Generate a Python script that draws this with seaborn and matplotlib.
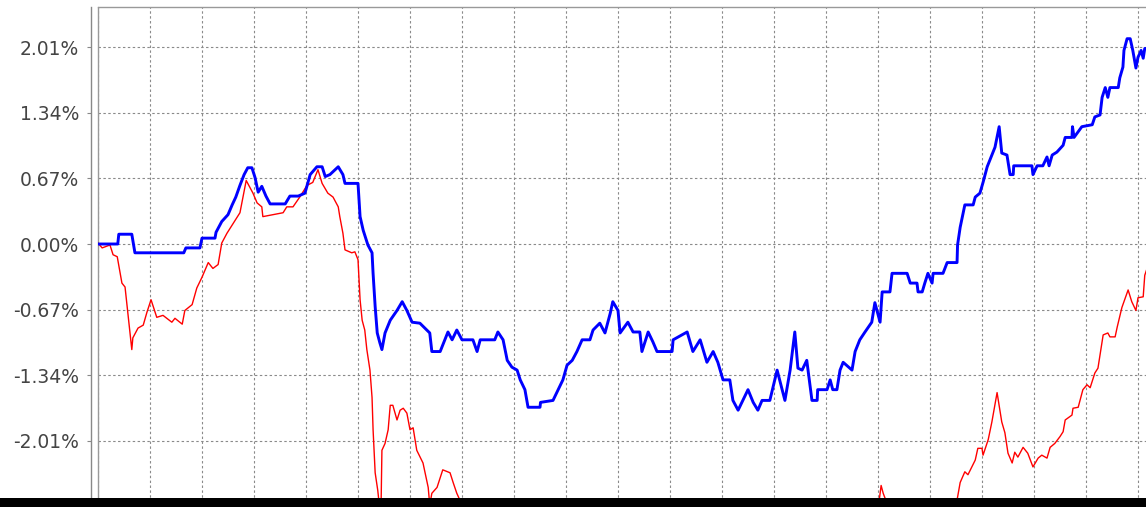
import numpy as np
import pandas as pd
import seaborn as sns
import matplotlib.pyplot as plt
from matplotlib.patches import Rectangle

# trading day index vs cumulative return (%)
blue_day = [0, 3.8, 4.0, 6.5, 7.1, 16.5, 16.9, 19.6, 20.0, 22.5, 22.7, 23.8, 25.0, 25.8, 26.5, 27.3,
            28.1, 28.8, 29.6, 30.2, 30.8, 31.5, 32.3, 33.1, 36.0, 36.9, 38.5, 39.8, 40.8, 42.1, 43.1,
            43.7, 44.6, 46.2, 47.1, 47.5, 50.0, 50.4, 51.0, 51.9, 52.7, 52.9, 53.3, 53.7, 54.2, 54.6,
            55.2, 56.2, 57.5, 58.5, 59.4, 60.4, 61.9, 63.8, 64.2, 65.8, 66.7, 67.3, 68.1, 69.0, 70.0,
            72.1, 72.9, 73.5, 76.3, 76.9, 77.9, 78.7, 79.6, 80.6, 81.2, 82.1, 82.7, 85.0, 85.1, 87.5,
            88.5, 89.4, 90.2, 91.2, 92.1, 93.1, 94.6, 95.2, 96.5, 97.5, 98.5, 99.0, 100.0, 100.4, 101.9,
            102.9, 104.2, 104.6, 105.8, 106.7, 107.5, 110.4, 110.6, 113.3, 114.4, 115.8, 117.1, 118.3,
            119.2, 120.2, 121.5, 122.1, 123.1, 124.0, 125.0, 126.0, 126.9, 127.7, 129.2, 130.6, 132.1,
            133.1, 134.0, 134.6, 135.4, 136.3, 137.3, 138.3, 138.4, 140.2, 140.8, 141.3, 142.1, 142.7,
            143.3, 145.0, 145.6, 146.5, 147.5, 148.8, 149.4, 150.4, 150.8, 152.3, 152.7, 155.6, 156.2,
            157.5, 157.7, 158.5, 159.0, 159.6, 160.4, 160.6, 162.5, 163.3, 165.2, 165.3, 165.8, 166.7,
            168.3, 168.7, 169.6, 170.2, 171.0, 171.9, 172.5, 173.3, 173.8, 174.8, 175.4, 176.0, 176.1,
            179.6, 179.8, 180.6, 181.7, 182.5, 182.9, 183.5, 184.4, 185.6, 186.0, 187.3, 187.4, 187.7,
            189.2, 191.2, 191.7, 192.7, 193.1, 193.7, 194.2, 194.6, 196.2, 196.5, 197.1, 197.3, 197.9,
            198.5, 199.0, 199.6, 200.0, 200.6, 201.0, 201.3, 202.0]
blue_ret = [0.00, 0.00, 0.10, 0.10, -0.09, -0.09, -0.04, -0.04, 0.06, 0.06, 0.12, 0.23, 0.30, 0.40, 0.48, 0.60,
            0.71, 0.78, 0.78, 0.68, 0.53, 0.59, 0.49, 0.41, 0.41, 0.49, 0.49, 0.52, 0.71, 0.79, 0.79,
            0.69, 0.71, 0.79, 0.71, 0.62, 0.62, 0.28, 0.14, -0.01, -0.09, -0.30, -0.64, -0.91, -1.01, -1.08,
            -0.91, -0.78, -0.68, -0.59, -0.68, -0.80, -0.81, -0.91, -1.10, -1.10, -0.98, -0.90, -0.98, -0.88, -0.98,
            -0.98, -1.10, -0.98, -0.98, -0.90, -0.98, -1.19, -1.26, -1.29, -1.39, -1.49, -1.67, -1.67, -1.62, -1.60,
            -1.49, -1.39, -1.24, -1.19, -1.10, -0.98, -0.98, -0.88, -0.81, -0.91, -0.71, -0.59, -0.68, -0.91, -0.80,
            -0.90, -0.90, -1.10, -0.90, -1.00, -1.10, -1.10, -0.98, -0.90, -1.10, -0.98, -1.21, -1.10,
            -1.21, -1.39, -1.39, -1.60, -1.70, -1.60, -1.49, -1.62, -1.70, -1.60, -1.60, -1.29, -1.60,
            -1.29, -0.90, -1.27, -1.29, -1.19, -1.60, -1.60, -1.49, -1.49, -1.39, -1.49, -1.49, -1.29,
            -1.21, -1.29, -1.10, -0.98, -0.90, -0.80, -0.60, -0.80, -0.49, -0.49, -0.30, -0.30, -0.40,
            -0.40, -0.49, -0.49, -0.40, -0.30, -0.40, -0.30, -0.30, -0.19, -0.19, -0.01, 0.17, 0.40,
            0.40, 0.48, 0.52, 0.63, 0.79, 0.91, 0.99, 1.20, 0.93, 0.91, 0.71, 0.71, 0.80,
            0.80, 0.71, 0.80, 0.80, 0.89, 0.80, 0.91, 0.94, 1.01, 1.09, 1.09, 1.20, 1.09,
            1.20, 1.22, 1.30, 1.32, 1.50, 1.60, 1.50, 1.60, 1.60, 1.70, 1.81, 1.98, 2.10,
            2.10, 1.98, 1.80, 1.91, 1.98, 1.90, 2.00, 2.00]

red_day = [0, 0.8, 2.3, 2.9, 3.7, 4.6, 5.2, 6.5, 6.7, 7.7, 8.7, 9.4, 10.2, 11.3, 12.5, 14.2, 14.8, 16.2,
           16.7, 18.1, 19.0, 20.0, 21.2, 22.1, 23.1, 23.8, 24.8, 26.0, 27.3, 28.5, 29.8, 30.6, 31.5,
           31.7, 33.7, 35.6, 36.3, 37.5, 38.8, 40.2, 41.3, 42.3, 43.1, 44.2, 45.2, 46.2, 46.5, 47.1,
           47.5, 48.8, 49.4, 50.0, 50.4, 50.8, 51.3, 51.7, 52.3, 52.7, 52.9, 53.3, 53.8, 54.2, 54.4,
           54.6, 55.2, 55.8, 56.2, 56.7, 57.5, 58.1, 58.7, 59.4, 60.0, 60.6, 61.3, 62.5, 63.5, 63.8,
           64.2, 65.2, 65.8, 66.3, 67.7, 68.3, 69.0, 69.6, 70.6, 75.0, 80.0, 90.0, 100.0, 110.0, 120.0,
           130.0, 140.0, 148.0, 150.0, 150.6, 151.0, 151.5, 153.0, 160.0, 165.2, 165.8, 166.7, 167.3,
           168.7, 169.2, 170.0, 170.2, 171.2, 171.9, 172.9, 173.8, 174.4, 175.0, 175.8, 176.3, 176.9,
           177.9, 178.8, 179.8, 180.8, 181.5, 182.5, 183.1, 184.0, 185.0, 185.6, 186.0, 187.3, 187.5,
           188.5, 189.4, 190.2, 190.8, 191.7, 192.3, 193.3, 194.2, 194.6, 195.6, 196.0, 196.9, 198.1,
           198.8, 199.6, 200.0, 201.0, 201.3, 202.0]
red_ret = [0.01, -0.04, -0.01, -0.11, -0.13, -0.40, -0.44, -1.08, -0.96, -0.86, -0.83, -0.70, -0.57, -0.75, -0.73, -0.80, -0.76, -0.82,
           -0.68, -0.62, -0.45, -0.34, -0.19, -0.25, -0.21, 0.01, 0.11, 0.21, 0.32, 0.65, 0.52, 0.42, 0.38,
           0.28, 0.30, 0.32, 0.38, 0.38, 0.48, 0.60, 0.63, 0.76, 0.62, 0.52, 0.48, 0.38, 0.28, 0.11,
           -0.06, -0.09, -0.08, -0.16, -0.57, -0.78, -0.88, -1.08, -1.29, -1.57, -1.90, -2.34, -2.52, -2.72, -2.80,
           -2.11, -2.04, -1.90, -1.65, -1.65, -1.80, -1.70, -1.68, -1.73, -1.90, -1.88, -2.11, -2.24, -2.49, -2.67,
           -2.55, -2.49, -2.39, -2.31, -2.34, -2.44, -2.55, -2.62, -2.75, -2.90, -3.10, -3.20, -3.05, -3.15, -3.30,
           -3.10, -2.95, -2.80, -2.72, -2.47, -2.55, -2.62, -2.80, -3.00, -2.62, -2.44, -2.33, -2.36,
           -2.21, -2.09, -2.09, -2.16, -2.00, -1.82, -1.52, -1.82, -1.93, -2.14, -2.24, -2.13, -2.18,
           -2.08, -2.14, -2.28, -2.19, -2.16, -2.19, -2.08, -2.04, -1.97, -1.92, -1.80, -1.75, -1.68,
           -1.67, -1.49, -1.44, -1.47, -1.32, -1.27, -0.93, -0.91, -0.95, -0.95, -0.85, -0.65, -0.47,
           -0.59, -0.68, -0.55, -0.54, -0.32, -0.21]

ytick_vals = [-2.68, -2.01, -1.34, -0.67, 0.00, 0.67, 1.34, 2.01]
ytick_labels = ['-2.68%', '-2.01%', '-1.34%', '-0.67%', '0.00%', '0.67%', '1.34%', '2.01%']

blue = pd.DataFrame({'day': blue_day, 'ret': blue_ret})
red = pd.DataFrame({'day': red_day, 'ret': red_ret})

sns.set_style("white")
W, H = 1146, 507
fig = plt.figure(figsize=(W / 100, H / 100), dpi=100)
ax = fig.add_axes([98 / W, 0, (1148 - 98) / W, 500 / H])

sns.lineplot(data=red, x='day', y='ret', color='#ff0000', linewidth=1.0,
             estimator=None, sort=False, ax=ax, zorder=3)
sns.lineplot(data=blue, x='day', y='ret', color='#0000ff', linewidth=2.1,
             estimator=None, sort=False, ax=ax, zorder=4)

ax.set_xlim(0, (1148 - 98) / 5.2)
ax.set_ylim(-263 * 0.010229, 237 * 0.010229)
ax.set_xticks(np.arange(0, 210, 10))
ax.set_yticks(ytick_vals)
ax.set_yticklabels(ytick_labels)
ax.set_xlabel('')
ax.set_ylabel('')

ax.grid(True, color='#8a8a8a', linestyle=(0, (2.2, 2.2)), linewidth=0.8)
ax.tick_params(axis='x', bottom=False, labelbottom=False)
ax.tick_params(axis='y', left=True, length=3, width=0.8, color='#888888',
               labelsize=13.5, labelcolor='#444444', pad=5.5)

for s in ['right', 'bottom']:
    ax.spines[s].set_visible(False)
ax.spines['top'].set_color('#999999')
ax.spines['top'].set_linewidth(1.0)
ax.spines['left'].set_position(('outward', 5))
ax.spines['left'].set_color('#888888')
ax.spines['left'].set_linewidth(1.0)
ax.axvline(0, color='#999999', linewidth=1.0, clip_on=False, zorder=2)

# dark band across the bottom edge
fig.add_artist(Rectangle((0, 0), 1, 9.5 / H, transform=fig.transFigure,
                         facecolor='black', edgecolor='none', zorder=10))

plt.savefig('out.png', dpi=100)
plt.close()
